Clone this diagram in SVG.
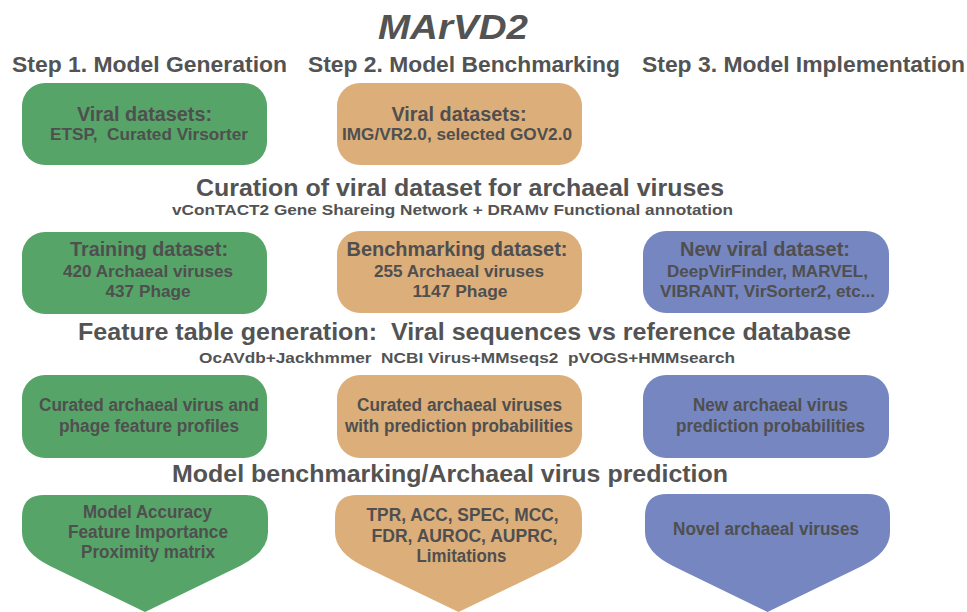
<svg xmlns="http://www.w3.org/2000/svg" width="967" height="612" viewBox="0 0 967 612">
<style>
text{font-family:"Liberation Sans",Arial,sans-serif;font-weight:bold;fill:#535353;white-space:pre}
.title{font-size:35px;font-style:italic;text-anchor:middle}
.step{font-size:22.5px}
.sec{font-size:24px;text-anchor:middle}
.sub{font-size:15.5px;text-anchor:middle}
.h{font-size:19.5px;text-anchor:middle;fill:#4f4f4f}
.t{font-size:16.5px;text-anchor:middle;fill:#4f4f4f}
.b{font-size:17.5px;text-anchor:middle;fill:#4f4f4f}
.g{fill:#56a468}
.o{fill:#dcae7a}
.bl{fill:#7586c1}
</style>
<g id="headers">
<text class="title" x="453" y="39" textLength="150" lengthAdjust="spacingAndGlyphs">MArVD2</text>
<text class="step" x="12" y="72" textLength="275" lengthAdjust="spacingAndGlyphs">Step 1. Model Generation</text>
<text class="step" x="308" y="72" textLength="312" lengthAdjust="spacingAndGlyphs">Step 2. Model Benchmarking</text>
<text class="step" x="642" y="72" textLength="323" lengthAdjust="spacingAndGlyphs">Step 3. Model Implementation</text>
<text class="sec" x="460" y="196" textLength="528" lengthAdjust="spacingAndGlyphs">Curation of viral dataset for archaeal viruses</text>
<text class="sub" x="452.5" y="215" textLength="561" lengthAdjust="spacingAndGlyphs">vConTACT2 Gene Shareing Network + DRAMv Functional annotation</text>
<text class="sec" x="464.5" y="340" textLength="773" lengthAdjust="spacingAndGlyphs">Feature table generation:  Viral sequences vs reference database</text>
<text class="sub" x="467" y="363" textLength="536" lengthAdjust="spacingAndGlyphs">OcAVdb+Jackhmmer  NCBI Virus+MMseqs2  pVOGS+HMMsearch</text>
<text class="sec" x="450" y="482" textLength="556" lengthAdjust="spacingAndGlyphs">Model benchmarking/Archaeal virus prediction</text>
</g>
<g id="n1a">
<rect class="g" x="22" y="83" width="245" height="82" rx="23"/>
<text class="h" x="144.5" y="121" textLength="135" lengthAdjust="spacingAndGlyphs">Viral datasets:</text>
<text class="t" x="149" y="140" textLength="198" lengthAdjust="spacingAndGlyphs">ETSP,  Curated Virsorter</text>
</g>
<g id="n1b">
<rect class="o" x="337" y="83" width="245" height="82" rx="23"/>
<text class="h" x="459" y="121" textLength="135" lengthAdjust="spacingAndGlyphs">Viral datasets:</text>
<text class="t" x="457" y="140" textLength="230" lengthAdjust="spacingAndGlyphs">IMG/VR2.0, selected GOV2.0</text>
</g>
<g id="n2a">
<rect class="g" x="22" y="232" width="245" height="82" rx="23"/>
<text class="h" x="149" y="256" textLength="158" lengthAdjust="spacingAndGlyphs">Training dataset:</text>
<text class="t" x="148" y="277" textLength="170" lengthAdjust="spacingAndGlyphs">420 Archaeal viruses</text>
<text class="t" x="148" y="297" textLength="85" lengthAdjust="spacingAndGlyphs">437 Phage</text>
</g>
<g id="n2b">
<rect class="o" x="337" y="231" width="245" height="82" rx="23"/>
<text class="h" x="457" y="256" textLength="221" lengthAdjust="spacingAndGlyphs">Benchmarking dataset:</text>
<text class="t" x="459" y="277" textLength="170" lengthAdjust="spacingAndGlyphs">255 Archaeal viruses</text>
<text class="t" x="460" y="297" textLength="95" lengthAdjust="spacingAndGlyphs">1147 Phage</text>
</g>
<g id="n2c">
<rect class="bl" x="643" y="231" width="246" height="82" rx="23"/>
<text class="h" x="765" y="256" textLength="170" lengthAdjust="spacingAndGlyphs">New viral dataset:</text>
<text class="t" x="767.5" y="277" textLength="201" lengthAdjust="spacingAndGlyphs">DeepVirFinder, MARVEL,</text>
<text class="t" x="767.5" y="297" textLength="215" lengthAdjust="spacingAndGlyphs">VIBRANT, VirSorter2, etc...</text>
</g>
<g id="n3a">
<rect class="g" x="22" y="375" width="245" height="83" rx="23"/>
<text class="b" x="149" y="411" textLength="220" lengthAdjust="spacingAndGlyphs">Curated archaeal virus and</text>
<text class="b" x="149" y="432" textLength="180" lengthAdjust="spacingAndGlyphs">phage feature profiles</text>
</g>
<g id="n3b">
<rect class="o" x="337" y="375" width="245" height="83" rx="23"/>
<text class="b" x="459.5" y="411" textLength="205" lengthAdjust="spacingAndGlyphs">Curated archaeal viruses</text>
<text class="b" x="459" y="432" textLength="228" lengthAdjust="spacingAndGlyphs">with prediction probabilities</text>
</g>
<g id="n3c">
<rect class="bl" x="643" y="375" width="246" height="83" rx="23"/>
<text class="b" x="770.5" y="411" textLength="155" lengthAdjust="spacingAndGlyphs">New archaeal virus</text>
<text class="b" x="770.5" y="432" textLength="189" lengthAdjust="spacingAndGlyphs">prediction probabilities</text>
</g>
<g id="n4a">
<path class="g" d="M22,517 Q22,495 44,495 H246 Q268,495 268,517 V532 Q268,552 240,566 L145,612 L50,566 Q22,552 22,532 Z"/>
<text class="b" x="147.5" y="518" textLength="129" lengthAdjust="spacingAndGlyphs">Model Accuracy</text>
<text class="b" x="148" y="538" textLength="160" lengthAdjust="spacingAndGlyphs">Feature Importance</text>
<text class="b" x="148" y="558" textLength="134" lengthAdjust="spacingAndGlyphs">Proximity matrix</text>
</g>
<g id="n4b">
<path class="o" d="M335,517 Q335,495 357,495 H560 Q582,495 582,517 V532 Q582,552 554,566 L458.5,612 L363,566 Q335,552 335,532 Z"/>
<text class="b" x="462.5" y="521" textLength="192" lengthAdjust="spacingAndGlyphs">TPR, ACC, SPEC, MCC,</text>
<text class="b" x="464.5" y="542" textLength="186" lengthAdjust="spacingAndGlyphs">FDR, AUROC, AUPRC,</text>
<text class="b" x="461.5" y="562" textLength="90" lengthAdjust="spacingAndGlyphs">Limitations</text>
</g>
<g id="n4c">
<path class="bl" d="M645,516 Q645,494 667,494 H868 Q890,494 890,516 V532 Q890,552 862,566 L767.5,612 L673,566 Q645,552 645,532 Z"/>
<text class="b" x="766" y="535" textLength="186" lengthAdjust="spacingAndGlyphs">Novel archaeal viruses</text>
</g>
<g id="connectors"></g>
</svg>
